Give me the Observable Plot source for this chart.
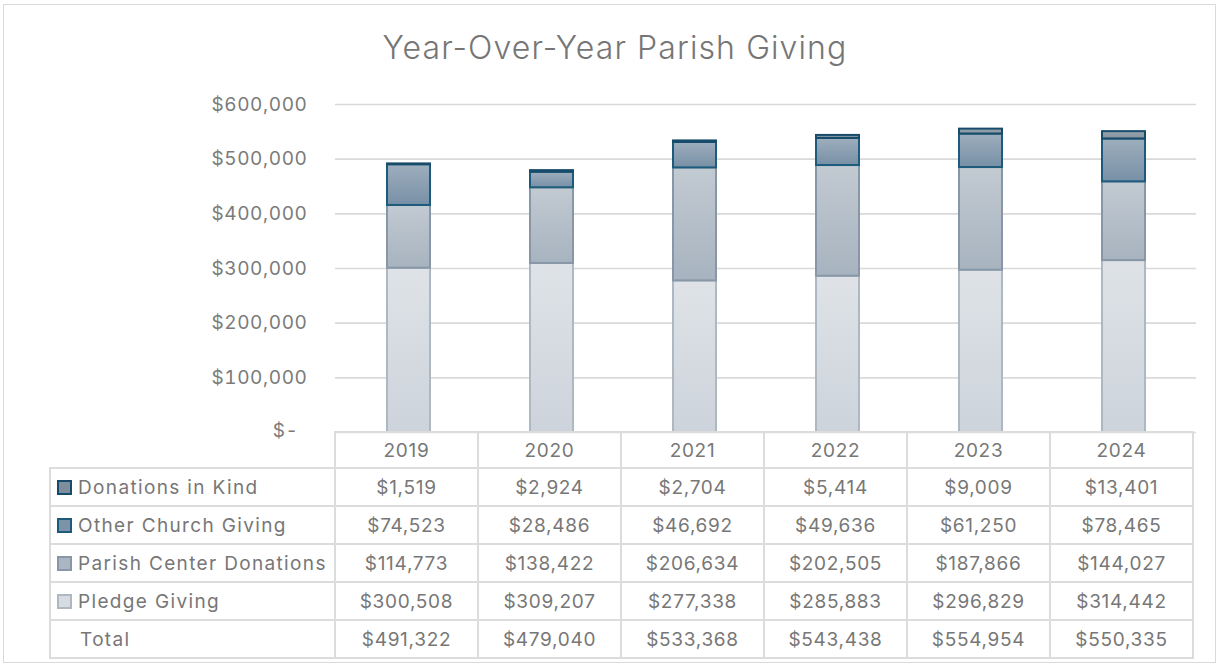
<!DOCTYPE html>
<html>
<head>
<meta charset="utf-8">
<script src="https://cdn.jsdelivr.net/npm/d3@7"></script>
<script src="https://cdn.jsdelivr.net/npm/@observablehq/plot@0.6"></script>
<style>
  html, body { margin: 0; padding: 0; background: #fff; }
  body { width: 1222px; height: 668px; position: relative; overflow: hidden; font-family: Inter, "Open Sans", sans-serif; }
  #frame { position: absolute; left: 3px; top: 4px; width: 1213px; height: 659px; border: 1.5px solid #d9d9d9; box-sizing: border-box; }
  #title { position: absolute; top: 29px; left: 4px; width: 1222px; text-align: center; font-size: 32px; font-weight: 300; color: #767676; letter-spacing: 1.1px; line-height: 38px; }
  #chart { position: absolute; top: 80px; left: 0; }
  #tbl { position: absolute; border-collapse: collapse; table-layout: fixed; font-size: 19px; letter-spacing: 0.7px; color: #777; }
  #tbl td { border: 2px solid #dcdcdc; padding: 0; text-align: center; height: 38px; box-sizing: border-box; white-space: nowrap; }
  #tbl tr.head td { height: 36px; }
  #tbl td.corner { border: none; }
  #tbl td.lab { text-align: left; padding-left: 6px; letter-spacing: 1.35px; }
  .sw { display: inline-block; width: 11px; height: 11px; border: 2px solid; margin-right: 6px; vertical-align: -1px; }
</style>
</head>
<body>
<svg width="0" height="0" style="position:absolute">
  <defs>
    <linearGradient id="g-pledge" x1="0" y1="0" x2="0" y2="1"><stop offset="0" stop-color="#dfe3e7"/><stop offset="1" stop-color="#ccd3db"/></linearGradient>
    <linearGradient id="g-parish" x1="0" y1="0" x2="0" y2="1"><stop offset="0" stop-color="#c2cad2"/><stop offset="1" stop-color="#a7b3bf"/></linearGradient>
    <linearGradient id="g-other" x1="0" y1="0" x2="0" y2="1"><stop offset="0" stop-color="#9eaebd"/><stop offset="1" stop-color="#7790a6"/></linearGradient>
    <linearGradient id="g-kind" x1="0" y1="0" x2="0" y2="1"><stop offset="0" stop-color="#98a3ae"/><stop offset="1" stop-color="#85939f"/></linearGradient>
  </defs>
</svg>
<div id="frame"></div>
<div id="title">Year-Over-Year Parish Giving</div>
<div id="chart"></div>
<script>
// ---- data ----
const years = ["2019", "2020", "2021", "2022", "2023", "2024"];
const seriesNames = ["Donations in Kind", "Other Church Giving", "Parish Center Donations", "Pledge Giving"];
const donationsInKind = [1519, 2924, 2704, 5414, 9009, 13401];
const otherChurchGiving = [74523, 28486, 46692, 49636, 61250, 78465];
const parishCenterDonations = [114773, 138422, 206634, 202505, 187866, 144027];
const pledgeGiving = [300508, 309207, 277338, 285883, 296829, 314442];
const totals = [491322, 479040, 533368, 543438, 554954, 550335];
const yTicks = [0, 100000, 200000, 300000, 400000, 500000, 600000];
const totalLabel = "Total";

// ---- styles ----
const valuesBySeries = {
  "Donations in Kind": donationsInKind,
  "Other Church Giving": otherChurchGiving,
  "Parish Center Donations": parishCenterDonations,
  "Pledge Giving": pledgeGiving
};
const stackOrder = ["Pledge Giving", "Parish Center Donations", "Other Church Giving", "Donations in Kind"];
const fills = {
  "Pledge Giving": "url(#g-pledge)",
  "Parish Center Donations": "url(#g-parish)",
  "Other Church Giving": "url(#g-other)",
  "Donations in Kind": "url(#g-kind)"
};
const strokes = {
  "Pledge Giving": "#aeb8c2",
  "Parish Center Donations": "#8797a7",
  "Other Church Giving": "#1d5b7c",
  "Donations in Kind": "#164b6a"
};
const swatchFill = {
  "Pledge Giving": "#d6dce2",
  "Parish Center Donations": "#aab6c2",
  "Other Church Giving": "#7c93a8",
  "Donations in Kind": "#7e8e9d"
};

const data = [];
for (const s of stackOrder) {
  years.forEach((y, i) => data.push({ year: y, series: s, value: valuesBySeries[s][i] }));
}

const money = d3.format(",");
const axisFmt = d => d === 0 ? "$-" : "$" + money(d);

const plot = Plot.plot({
  width: 1222,
  height: 360,
  marginTop: 24,
  marginBottom: 8,
  marginLeft: 335,
  marginRight: 26,
  style: { fontFamily: "Inter, 'Open Sans', sans-serif", fontSize: "19px", color: "#7b7b7b", background: "transparent", letterSpacing: "0.6px", overflow: "visible" },
  x: { domain: years, paddingInner: 0.7, paddingOuter: 0.35, axis: null },
  y: { domain: [0, 600000], axis: null },
  color: { type: "identity" },
  marks: [
    Plot.gridY(yTicks, { stroke: "#d9d9d9", strokeOpacity: 1, strokeWidth: 1.6 }),
    Plot.axisY(yTicks.filter(d => d !== 0), { tickFormat: axisFmt, tickSize: 0, tickPadding: 28, fontSize: 19, fill: "#7b7b7b", label: null }),
    Plot.axisY(yTicks.filter(d => d === 0), { tickFormat: axisFmt, tickSize: 0, tickPadding: 37, fontSize: 19, fill: "#7b7b7b", label: null, dy: -2, style: { letterSpacing: "0px" } }),
    Plot.barY(data, Plot.stackY({
      x: "year",
      y: "value",
      z: "series",
      order: stackOrder,
      fill: d => fills[d.series],
      stroke: d => strokes[d.series],
      strokeWidth: 2
    }))
  ]
});
document.getElementById("chart").appendChild(plot);

// ---- data table aligned to the x scale ----
const xs = plot.scale("x");
const step = xs.step;
const plotLeft = xs.range[0];
const tableLeft = 50;
const labelW = plotLeft - tableLeft;

const tbl = document.createElement("table");
tbl.id = "tbl";
tbl.style.left = (tableLeft - 1) + "px";
tbl.style.top = (80 + 360 - 8 - 1) + "px";
tbl.style.width = (labelW + step * years.length) + "px";
const colgroup = document.createElement("colgroup");
const c0 = document.createElement("col"); c0.style.width = labelW + "px"; colgroup.appendChild(c0);
years.forEach(() => { const c = document.createElement("col"); c.style.width = step + "px"; colgroup.appendChild(c); });
tbl.appendChild(colgroup);

const head = document.createElement("tr"); head.className = "head";
const corner = document.createElement("td"); corner.className = "corner"; head.appendChild(corner);
years.forEach(y => { const td = document.createElement("td"); td.textContent = y; head.appendChild(td); });
tbl.appendChild(head);

seriesNames.forEach(s => {
  const tr = document.createElement("tr");
  const lab = document.createElement("td"); lab.className = "lab";
  const sw = document.createElement("span"); sw.className = "sw";
  sw.style.background = swatchFill[s]; sw.style.borderColor = strokes[s];
  lab.appendChild(sw);
  lab.appendChild(document.createTextNode(s));
  tr.appendChild(lab);
  valuesBySeries[s].forEach(v => { const td = document.createElement("td"); td.textContent = "$" + money(v); tr.appendChild(td); });
  tbl.appendChild(tr);
});
const trT = document.createElement("tr");
const labT = document.createElement("td"); labT.className = "lab"; labT.style.paddingLeft = "29px"; labT.textContent = totalLabel;
trT.appendChild(labT);
totals.forEach(v => { const td = document.createElement("td"); td.textContent = "$" + money(v); trT.appendChild(td); });
tbl.appendChild(trT);
document.body.appendChild(tbl);
</script>
</body>
</html>
